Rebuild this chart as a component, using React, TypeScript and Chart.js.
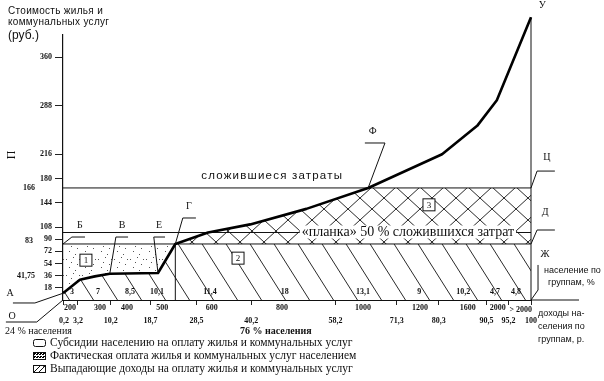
import React, { useEffect, useRef } from 'react';
import { Chart, registerables } from 'chart.js';
Chart.register(...registerables);

// Curve: cumulative population share (%) -> housing & utility cost (rub.)
const curveX = [0, 3.6, 6.8, 10, 20.3, 24, 31, 40, 52, 65.2, 81, 88.5, 92.7, 100];
const curveY = [10, 30, 35, 39, 40, 83, 100, 112, 135, 166, 216, 258, 296, 419];
const costLevel = 166;
const plankaLevel = 83;
const upperLevel = 100;
const splitShare = 24;
const yTicks = [18, 36, 54, 72, 90, 108, 144, 180, 216, 288, 360];
const cumShare = [0.2, 3.2, 10.2, 18.7, 28.5, 40.2, 58.2, 71.3, 80.3, 90.5, 95.2, 100];
const cumLabels = ['0,2', '3,2', '10,2', '18,7', '28,5', '40,2', '58,2', '71,3', '80,3', '90,5', '95,2', '100'];
const groupShare = ['3', '7', '8,5', '10,1', '11,4', '18', '13,1', '9', '10,2', '4,7', '4,8'];
const groupPos = [1.9, 7.5, 14.3, 20.1, 31.4, 47.4, 64.1, 76.1, 85.5, 92.3, 96.8];
const incomeLabels = ['200', '300', '400', '500', '600', '800', '1000', '1200', '1600', '2000', '> 2000'];
const incomePos = [1.5, 7.9, 13.7, 21.2, 31.8, 46.8, 64.1, 76.3, 86.5, 92.9, 97.8];

const SERIF = '"Liberation Serif", "DejaVu Serif", serif';
const SANS = '"Liberation Sans", Arial, sans-serif';

function makePattern(ctx: CanvasRenderingContext2D, w: number, h: number, draw: (g: CanvasRenderingContext2D) => void) {
  const c = document.createElement('canvas');
  c.width = w; c.height = h;
  const g = c.getContext('2d')!;
  draw(g);
  return ctx.createPattern(c, 'repeat')!;
}

export default function App() {
  const ref = useRef<HTMLCanvasElement>(null);
  useEffect(() => {
    const canvas = ref.current!;
    const ctx = canvas.getContext('2d')!;

    const hatchBack = makePattern(ctx, 24, 38, (g) => {
      g.strokeStyle = '#2a2a2a'; g.lineWidth = 1;
      g.beginPath();
      g.moveTo(-24, 0); g.lineTo(0, 38);
      g.moveTo(0, 0); g.lineTo(24, 38);
      g.moveTo(24, 0); g.lineTo(48, 38);
      g.stroke();
    });
    const hatchCross = makePattern(ctx, 24, 22, (g) => {
      g.strokeStyle = '#2a2a2a'; g.lineWidth = 1;
      g.beginPath();
      g.moveTo(0, 0); g.lineTo(24, 22);
      g.moveTo(24, 0); g.lineTo(0, 22);
      g.stroke();
    });
    const dots = makePattern(ctx, 16, 16, (g) => {
      g.fillStyle = '#555';
      [[2, 3], [9, 1], [13, 8], [5, 11], [11, 14], [7, 6], [15, 3]].forEach(([a, b]) => g.fillRect(a, b, 1, 1));
    });
    const dense = makePattern(ctx, 3, 3, (g) => {
      g.fillStyle = '#000';
      g.fillRect(0, 0, 2, 1); g.fillRect(1, 2, 2, 1);
    });

    const pts = (xs: number[], ys: number[]) => xs.map((x, i) => ({ x, y: ys[i] }));
    const lowerY = curveY.map((v) => Math.min(v, plankaLevel));
    const upperY = curveY.map((v) => Math.min(Math.max(v, plankaLevel), costLevel));
    const hline = (v: number) => [{ x: 0, y: v }, { x: 100, y: v }];

    const base = { pointRadius: 0, tension: 0, borderJoinStyle: 'round' as const };
    const none = 'rgba(0,0,0,0)';

    const deco = {
      id: 'deco',
      afterDatasetsDraw(chart: any) {
        const c: CanvasRenderingContext2D = chart.ctx;
        const X = (v: number) => chart.scales.x.getPixelForValue(v);
        const Y = (v: number) => chart.scales.y.getPixelForValue(v);
        c.save();
        c.fillStyle = '#111';
        c.strokeStyle = '#111';
        c.lineWidth = 1;

        const text = (s: string, x: number, y: number, font: string, align: CanvasTextAlign = 'left', spacing = '0px') => {
          c.font = font; c.textAlign = align; c.textBaseline = 'middle';
          (c as any).letterSpacing = spacing;
          c.fillText(s, x, y);
          (c as any).letterSpacing = '0px';
        };
        const poly = (p: number[][]) => {
          c.beginPath();
          p.forEach(([a, b], i) => (i ? c.lineTo(X(a), Y(b)) : c.moveTo(X(a), Y(b))));
          c.stroke();
        };

        // extension of the income axis
        c.beginPath(); c.moveTo(X(100), Y(0)); c.lineTo(X(100) + 48, Y(0)); c.stroke();

        // planka caption with white background
        const pf = `14px ${SERIF}`;
        c.font = pf;
        const pl = '«планка» 50 % сложившихся затрат';
        const pw = c.measureText(pl).width;
        c.fillStyle = '#fff';
        c.fillRect(X(51) - 2, Y(upperLevel) - 7, pw + 4, 13);
        c.fillStyle = '#111';
        text(pl, X(51), Y(upperLevel), pf);

        text('сложившиеся затраты', X(44.7), Y(184), `11.5px ${SANS}`, 'center', '1.2px');

        // numbered boxes
        ([['1', 4.9, 59], ['2', 37.4, 62], ['3', 78.2, 141]] as [string, number, number][]).forEach(([s, a, b]) => {
          const px = X(a), py = Y(b);
          c.fillStyle = '#fff';
          c.fillRect(px - 6, py - 6, 12, 12);
          c.strokeRect(px - 6, py - 6, 12, 12);
          c.fillStyle = '#111';
          text(s, px, py + 0.5, `9px ${SERIF}`, 'center');
        });

        // leader lines
        [
          [[-10.7, -4.4], [-6, -4.4], [0, 10]],
          [[-12.2, -32.6], [-5.6, -32.6], [0, 0]],
          [[4.7, 93.3], [1.9, 93.3], [0, 83]],
          [[13.9, 93.3], [11.3, 93.3], [10, 39]],
          [[21.8, 93.3], [19.4, 93.3], [20.3, 40]],
          [[28.4, 121.5], [25.6, 121.5], [24, 83]],
          [[64.5, 232.6], [68.8, 232.6], [65.2, 166]],
          [[105.1, 191], [101.3, 191], [100, 166]],
          [[105.1, 103.7], [101.3, 103.7], [100, 83]],
          [[101.5, 51.9], [101.5, 14.8], [100, 0]],
        ].forEach(poly);

        // point letters
        ([
          ['А', -11.3, 10.4], ['О', -10.9, -23.7], ['Б', 3.6, 111], ['В', 12.6, 111], ['Е', 20.5, 111],
          ['Г', 26.9, 138], ['Ф', 66.2, 250], ['У', 102.4, 436], ['Ц', 103.4, 212], ['Д', 103, 130], ['Ж', 103, 67],
        ] as [string, number, number][]).forEach(([s, a, b]) => text(s, X(a), Y(b), `10px ${SERIF}`, 'center'));

        // extra labels at the cost axis
        text('166', X(0) - 28, Y(costLevel), `bold 8px ${SERIF}`, 'right');
        text('83', X(0) - 30, Y(plankaLevel) - 3, `bold 8px ${SERIF}`, 'right');
        text('41,75', X(0) - 28, Y(36), `bold 8px ${SERIF}`, 'right');
        c.save();
        c.translate(12, 155); c.rotate(-Math.PI / 2);
        text('П', 0, 0, `12px ${SERIF}`, 'center');
        c.restore();

        // group shares and incomes
        groupShare.forEach((s, i) => text(s, X(groupPos[i]), Y(0) - 8, `bold 8px ${SERIF}`, 'center'));
        incomeLabels.forEach((s, i) => text(s, X(incomePos[i]), Y(0) + 8 + (i === incomeLabels.length - 1 ? 2 : 0), `bold 8px ${SERIF}`, 'center'));

        // axis titles
        text('Стоимость жилья и', 8, 11, `10px ${SANS}`, 'left', '0.3px');
        text('коммунальных услуг', 8, 22, `10px ${SANS}`, 'left', '0.3px');
        text('(руб.)', 8, 36, `12px ${SANS}`);
        text('население по', 544, 271, `9px ${SANS}`);
        text('группам, %', 548, 283, `9px ${SANS}`);
        text('доходы на-', 538, 314, `9px ${SANS}`);
        text('селения по', 538, 327, `9px ${SANS}`);
        text('группам, р.', 538, 340, `9px ${SANS}`);

        text('24 % населения', 5, 331, `10px ${SERIF}`);
        text('76 % населения', 240, 331, `bold 10px ${SERIF}`);

        // legend
        const rows = [
          'Субсидии населению на оплату жилья и коммунальных услуг',
          'Фактическая оплата жилья и коммунальных услуг населением',
          'Выпадающие доходы на оплату жилья и коммунальных услуг',
        ];
        rows.forEach((s, i) => {
          const yy = 343 + i * 13;
          if (i === 0) {
            c.beginPath(); (c as any).roundRect(33.5, yy - 3.5, 12, 7, 2); c.stroke();
          } else if (i === 1) {
            c.fillStyle = dense; c.fillRect(33, yy - 4, 13, 8);
            c.strokeRect(33.5, yy - 3.5, 12, 7);
          } else {
            c.fillStyle = dots; c.fillRect(33, yy - 4, 13, 8);
            c.beginPath(); c.moveTo(34, yy + 3); c.lineTo(40, yy - 3); c.moveTo(39, yy + 3); c.lineTo(45, yy - 3); c.stroke();
            c.strokeRect(33.5, yy - 3.5, 12, 7);
          }
          c.fillStyle = '#111';
          text(s, 50, yy, `11.5px ${SERIF}`);
        });
        c.restore();
      },
    };

    const chart = new Chart(canvas, {
      type: 'line',
      data: {
        datasets: [
          { ...base, data: pts(curveX, curveY), borderColor: '#000', borderWidth: 2.6, fill: false, clip: false, order: 0 } as any,
          { ...base, data: pts(curveX, lowerY), borderColor: none, borderWidth: 0, backgroundColor: hatchBack, fill: 'origin', order: 6 },
          { ...base, data: hline(plankaLevel), borderColor: '#111', borderWidth: 1, backgroundColor: dots, fill: 1, order: 4 },
          { ...base, data: pts(curveX, upperY), borderColor: none, borderWidth: 0, backgroundColor: hatchCross, fill: 2, order: 5 },
          { ...base, data: hline(costLevel), borderColor: '#111', borderWidth: 1, fill: false, order: 3 },
          { ...base, data: hline(upperLevel), borderColor: '#111', borderWidth: 1, fill: false, order: 3 },
          { ...base, data: [{ x: splitShare, y: 0 }, { x: splitShare, y: plankaLevel }], borderColor: '#111', borderWidth: 1, fill: false, order: 2 },
          { ...base, data: [{ x: 100, y: 0 }, { x: 100, y: curveY[curveY.length - 1] }], borderColor: '#111', borderWidth: 1, fill: false, clip: false, order: 2 } as any,
        ],
      },
      options: {
        responsive: false,
        animation: false,
        devicePixelRatio: 1,
        layout: { padding: { top: 35, right: 73, left: 0, bottom: 0 } },
        plugins: { legend: { display: false }, tooltip: { enabled: false } },
        scales: {
          x: {
            type: 'linear', min: 0, max: 100,
            afterBuildTicks: (s: any) => { s.ticks = cumShare.map((v) => ({ value: v })); },
            afterFit: (s: any) => { s.height = 81; },
            ticks: {
              autoSkip: false, maxRotation: 0, padding: 11, color: '#111',
              font: { family: SERIF, size: 8, weight: 'bold' },
              callback: (_v: any, i: number) => cumLabels[i],
            },
            grid: { drawOnChartArea: false, tickLength: 5, color: '#222' },
            border: { color: '#111', width: 1 },
          },
          y: {
            type: 'linear', min: 0, max: 392.6,
            afterBuildTicks: (s: any) => { s.ticks = yTicks.map((v) => ({ value: v })); },
            afterFit: (s: any) => { s.width = 63; },
            ticks: { padding: 3, color: '#111', font: { family: SERIF, size: 8, weight: 'bold' }, callback: (v: any) => String(v) },
            grid: { drawOnChartArea: false, tickLength: 8, color: '#222' },
            border: { color: '#111', width: 1.2 },
          },
        },
      },
      plugins: [deco],
    } as any);
    return () => chart.destroy();
  }, []);

  return (
    <div style={{ position: 'fixed', left: 0, top: 0, width: 604, height: 381, background: '#fff' }}>
      <canvas ref={ref} width={604} height={381} style={{ display: 'block', width: 604, height: 381 }} />
    </div>
  );
}
